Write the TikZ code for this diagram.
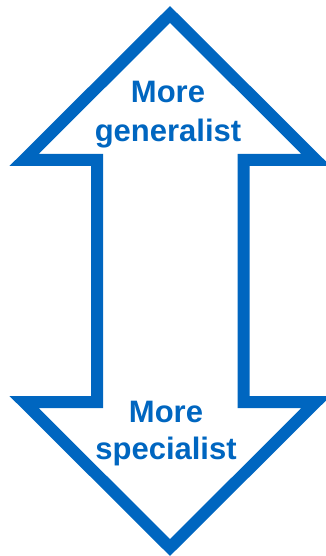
\documentclass[tikz,border=0pt]{standalone}
\usepackage{fontspec}
\setmainfont{Liberation Sans}
\definecolor{arrowblue}{RGB}{0,102,192}
\begin{document}
\begin{tikzpicture}[x=1pt,y=-1pt,
  outline/.style={draw=arrowblue,line width=12pt,line join=miter,miter limit=10},
  lbl/.style={anchor=base,inner sep=0pt,text=arrowblue,font=\fontsize{31}{31}\selectfont\bfseries}]
\useasboundingbox (0,0) rectangle (326,556);
\coordinate (tip) at (170,14.5);
\coordinate (bot) at (170,547.5);
\draw[outline] (tip) -- (316,160) -- (243.5,160) -- (243.5,402) -- (316,402) -- (bot)
  -- (24,402) -- (97,402) -- (97,160) -- (24,160) -- cycle;
\node[lbl] (t1) at (168,103) {More};
\node[lbl] (t2) at (168,142) {generalist};
\node[lbl] (b1) at (166,422) {More};
\node[lbl] (b2) at (166,459) {specialist};
\end{tikzpicture}
\end{document}
